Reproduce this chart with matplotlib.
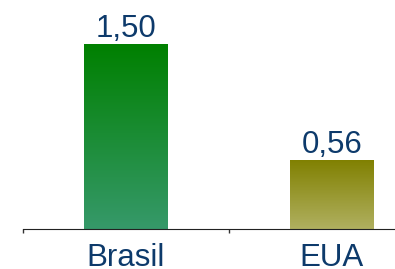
import numpy as np
import matplotlib
matplotlib.use("Agg")
from matplotlib import pyplot as plt
from matplotlib.colors import LinearSegmentedColormap

paises = ["Brasil", "EUA"]
valores = [1.50, 0.56]
rotulos = ["1,50", "0,56"]
cores_topo = ["#008000", "#808000"]
cores_base = ["#36996a", "#b0b060"]

plt.rcParams['font.family'] = ['Liberation Sans', 'DejaVu Sans']
azul = "#0d3a6b"

fig = plt.figure(figsize=(3.95, 2.69), dpi=100)
ax = fig.add_axes([23 / 395, 40 / 269, 372 / 395, 229 / 269])

x = np.arange(len(paises))
barras = ax.bar(x, valores, width=0.403, color="none", edgecolor="none")

grad = np.linspace(0, 1, 256).reshape(-1, 1)
for b, c0, c1 in zip(barras, cores_topo, cores_base):
    cmap = LinearSegmentedColormap.from_list("g", [c1, c0])
    x0, y0 = b.get_x(), b.get_y()
    im = ax.imshow(grad, cmap=cmap, origin="lower", aspect="auto",
                   extent=[x0, x0 + b.get_width(), y0, y0 + b.get_height()])
    im.set_clip_path(b)

for xi, v, r in zip(x, valores, rotulos):
    ax.annotate(r, (xi, v), xytext=(0, 0), textcoords="offset points",
                ha="center", va="bottom", fontsize=22.5, color=azul)

ax.set_xlim(-0.5, 1.306)
ax.set_ylim(0, 1.857)
ax.set_xticks([-0.5, 0.5])
ax.set_xticklabels([])
ax.tick_params(axis="x", which="major", length=3, width=1, color="#333333")
ax.set_xticks(x, minor=True)
ax.set_xticklabels(paises, minor=True, fontsize=22.5, color=azul)
ax.tick_params(axis="x", which="minor", length=0, pad=10)
ax.set_yticks([])
for s in ["left", "top", "right"]:
    ax.spines[s].set_visible(False)
ax.spines["bottom"].set_color("#222222")

fig.savefig("out.png", dpi=100)
